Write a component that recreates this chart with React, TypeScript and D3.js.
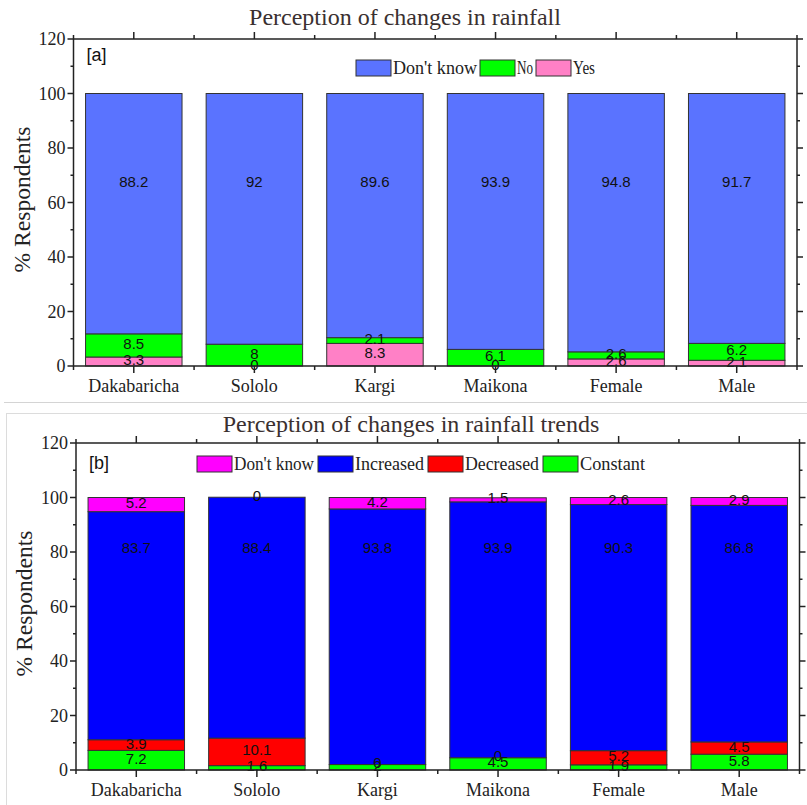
import React from "react";
import * as d3 from "d3";

const categories = ["Dakabaricha", "Sololo", "Kargi", "Maikona", "Female", "Male"];

// Panel [a]: Perception of changes in rainfall
const rainYes = [3.3, 0, 8.3, 0, 2.6, 2.1];
const rainNo = [8.5, 8, 2.1, 6.1, 2.6, 6.2];
const rainDontKnow = [88.2, 92, 89.6, 93.9, 94.8, 91.7];

// Panel [b]: Perception of changes in rainfall trends
const trendConstant = [7.2, 1.6, 2, 4.5, 1.9, 5.8];
const trendDecreased = [3.9, 10.1, 0, 0, 5.2, 4.5];
const trendIncreased = [83.7, 88.4, 93.8, 93.9, 90.3, 86.8];
const trendDontKnow = [5.2, 0, 4.2, 1.5, 2.6, 2.9];

const yMajorTicks = [0, 20, 40, 60, 80, 100, 120];
const yMinorTicks = [10, 30, 50, 70, 90, 110];

const SERIF = "'Liberation Serif', 'Times New Roman', serif";
const SANS = "'Liberation Sans', Arial, sans-serif";
const INK = "#222";

type SeriesDef = { key: string; name: string; color: string; values: number[] };

type PanelProps = {
  plotTop: number;
  plotLeft: number;
  title: string;
  titleY: number;
  titleX: number;
  tag: string;
  tagY: number;
  series: SeriesDef[]; // bottom-up stacking order
  legendOrder: string[];
  legendX: number[];
  legendW: number[];
  legendY: number;
  mainKey: string;
  mainLabelAt: number;
  yLabelX: number;
};

function Panel(p: PanelProps) {
  const plotW = 723.5;
  const plotH = 327;
  const L = p.plotLeft;
  const R = L + plotW;
  const T = p.plotTop;
  const B = T + plotH;

  const x = d3
    .scaleBand<string>()
    .domain(categories)
    .range([L, R])
    .paddingInner(0.2)
    .paddingOuter(0.1);
  const step = x.step();
  const y = d3.scaleLinear().domain([0, 120]).range([B, T]);

  const rows = categories.map((c, i) => {
    const r: any = { cat: c };
    p.series.forEach((s) => (r[s.key] = s.values[i]));
    return r;
  });
  const stacked = d3.stack<any>().keys(p.series.map((s) => s.key))(rows);
  const colorOf: Record<string, string> = {};
  const nameOf: Record<string, string> = {};
  p.series.forEach((s) => {
    colorOf[s.key] = s.color;
    nameOf[s.key] = s.name;
  });

  const boundaries = d3.range(categories.length + 1).map((i) => L + i * step);
  const centers = categories.map((c) => (x(c) as number) + x.bandwidth() / 2);

  return (
    <g>
      <text
        x={p.titleX}
        y={p.titleY}
        textAnchor="middle"
        fontFamily={SERIF}
        fontSize={24}
        fill="#3a3030"
      >
        {p.title}
      </text>

      {/* bars */}
      {stacked.map((layer) => (
        <g key={layer.key}>
          {layer.map((d, i) => (
            <rect
              key={i}
              x={x(d.data.cat) as number}
              y={y(d[1])}
              width={x.bandwidth()}
              height={Math.max(0, y(d[0]) - y(d[1]))}
              fill={colorOf[layer.key]}
              stroke="#333"
              strokeWidth={1}
            />
          ))}
        </g>
      ))}

      {/* value labels */}
      {stacked.map((layer) => (
        <g key={"lab" + layer.key}>
          {layer.map((d, i) => {
            const v = d.data[layer.key];
            const yv = layer.key === p.mainKey ? p.mainLabelAt : (d[0] + d[1]) / 2;
            return (
              <text
                key={i}
                x={centers[i]}
                y={y(yv) - 2}
                textAnchor="middle"
                dominantBaseline="central"
                fontFamily={SANS}
                fontSize={15}
                fill="#111"
              >
                {String(v)}
              </text>
            );
          })}
        </g>
      ))}

      {/* frame axes */}
      <line x1={L} x2={R} y1={B} y2={B} stroke={INK} strokeWidth={1.5} />
      <line x1={L} x2={R} y1={T} y2={T} stroke={INK} strokeWidth={1.5} />
      <line x1={L} x2={L} y1={T} y2={B} stroke={INK} strokeWidth={1.5} />
      <line x1={R} x2={R} y1={T} y2={B} stroke={INK} strokeWidth={1.5} />

      {/* y ticks left & right */}
      {yMajorTicks.map((t) => (
        <g key={"ym" + t}>
          <line x1={L - 6} x2={L} y1={y(t)} y2={y(t)} stroke={INK} strokeWidth={1.5} />
          <line x1={R} x2={R + 6} y1={y(t)} y2={y(t)} stroke={INK} strokeWidth={1.5} />
          <text
            x={L - 8}
            y={y(t)}
            textAnchor="end"
            dominantBaseline="central"
            fontFamily={SERIF}
            fontSize={18}
            fill={INK}
          >
            {t}
          </text>
        </g>
      ))}
      {yMinorTicks.map((t) => (
        <g key={"yn" + t}>
          <line x1={L - 3} x2={L} y1={y(t)} y2={y(t)} stroke={INK} strokeWidth={1.5} />
          <line x1={R} x2={R + 3} y1={y(t)} y2={y(t)} stroke={INK} strokeWidth={1.5} />
        </g>
      ))}

      {/* x ticks bottom & top */}
      {centers.map((cx, i) => (
        <g key={"xm" + i}>
          <line x1={cx} x2={cx} y1={B} y2={B + 7} stroke={INK} strokeWidth={1.5} />
          <line x1={cx} x2={cx} y1={T - 7} y2={T} stroke={INK} strokeWidth={1.5} />
          <text
            x={cx}
            y={B + 20}
            textAnchor="middle"
            dominantBaseline="central"
            fontFamily={SERIF}
            fontSize={18}
            fill={INK}
          >
            {categories[i]}
          </text>
        </g>
      ))}
      {boundaries.map((bx, i) => (
        <g key={"xn" + i}>
          <line x1={bx} x2={bx} y1={B} y2={B + 4} stroke={INK} strokeWidth={1.5} />
          <line x1={bx} x2={bx} y1={T - 4} y2={T} stroke={INK} strokeWidth={1.5} />
        </g>
      ))}

      {/* y label */}
      <text
        transform={`translate(${p.yLabelX},${(T + B) / 2 - 3}) rotate(-90)`}
        textAnchor="middle"
        dominantBaseline="central"
        fontFamily={SERIF}
        fontSize={23}
        textLength={146}
        lengthAdjust="spacingAndGlyphs"
        fill={INK}
      >
        % Respondents
      </text>

      {/* tag */}
      <text
        x={L + 13}
        y={p.tagY}
        dominantBaseline="central"
        fontFamily={SANS}
        fontSize={18}
        fill="#111"
      >
        {p.tag}
      </text>

      {/* legend */}
      {p.legendOrder.map((k, i) => (
        <g key={"lg" + k}>
          <rect
            x={p.legendX[i]}
            y={p.legendY}
            width={35}
            height={16}
            fill={colorOf[k]}
            stroke="#333"
            strokeWidth={1}
          />
          <text
            x={p.legendX[i] + 37}
            y={p.legendY + 8}
            dominantBaseline="central"
            fontFamily={SERIF}
            fontSize={18}
            textLength={p.legendW[i]}
            lengthAdjust="spacingAndGlyphs"
            fill={INK}
          >
            {nameOf[k]}
          </text>
        </g>
      ))}
    </g>
  );
}

export default function App() {
  const topSeries: SeriesDef[] = [
    { key: "yes", name: "Yes", color: "#ff80c6", values: rainYes },
    { key: "no", name: "No", color: "#00ff00", values: rainNo },
    { key: "dk", name: "Don't know", color: "#5a73ff", values: rainDontKnow },
  ];
  const bottomSeries: SeriesDef[] = [
    { key: "constant", name: "Constant", color: "#00ff00", values: trendConstant },
    { key: "decreased", name: "Decreased", color: "#ff0000", values: trendDecreased },
    { key: "increased", name: "Increased", color: "#0000ff", values: trendIncreased },
    { key: "dk", name: "Don't know", color: "#ff00ff", values: trendDontKnow },
  ];
  return (
    <>
      <style>{`body{margin:0;background:#fff}`}</style>
      <svg width={807} height={805} style={{ display: "block" }}>
        <rect x={0} y={0} width={807} height={805} fill="#fff" />
        <Panel
          plotTop={39}
          plotLeft={73.5}
          title="Perception of changes in rainfall"
          titleY={25}
          titleX={405}
          tag="[a]"
          tagY={55}
          series={topSeries}
          legendOrder={["dk", "no", "yes"]}
          legendX={[356, 480, 536]}
          legendW={[84, 16, 22]}
          legendY={60}
          mainKey="dk"
          mainLabelAt={67}
          yLabelX={22}
        />
        <line x1={4} x2={807} y1={402.5} y2={402.5} stroke="#d4d4d4" strokeWidth={1} />
        <rect x={6.5} y={413.5} width={820} height={420} fill="none" stroke="#dcdcdc" strokeWidth={1} />
        <Panel
          plotTop={443}
          plotLeft={76}
          title="Perception of changes in rainfall trends"
          titleY={432}
          titleX={411}
          tag="[b]"
          tagY={463}
          series={bottomSeries}
          legendOrder={["dk", "increased", "decreased", "constant"]}
          legendX={[197, 318, 428, 543]}
          legendW={[80, 69, 74, 65]}
          legendY={456}
          mainKey="increased"
          mainLabelAt={81}
          yLabelX={24}
        />
      </svg>
    </>
  );
}
